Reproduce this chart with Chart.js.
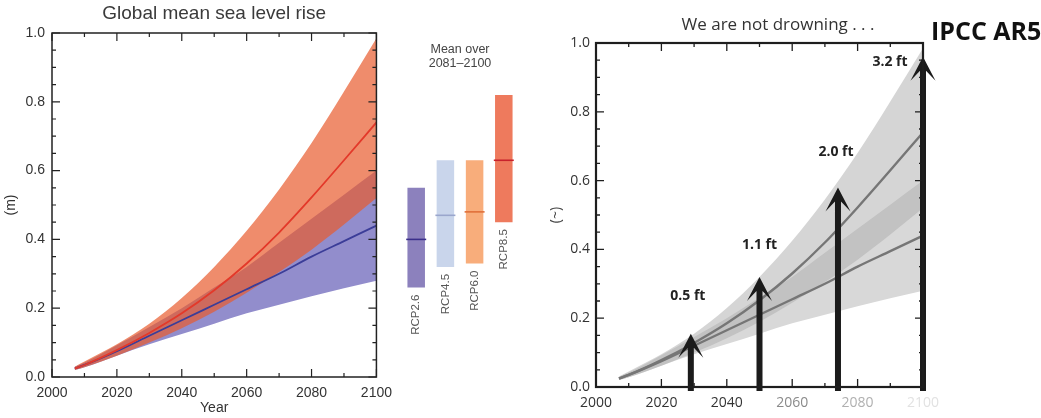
<!DOCTYPE html>
<html>
<head>
<meta charset="utf-8">
<script src="https://cdn.jsdelivr.net/npm/chart.js@4.4.1/dist/chart.umd.min.js"></script>
<style>
body { margin: 0; background: #fff; }
#wrap { position: relative; width: 1041px; height: 418px; overflow: hidden; background: #fff; }
canvas { position: absolute; top: 0; }
#frameLayer { left: 0; z-index: 5; pointer-events: none; }
</style>
</head>
<body>
<div id="wrap">
  <canvas id="seaChart" width="400" height="418" style="left:0"></canvas>
  <canvas id="meanChart" width="140" height="418" style="left:390px"></canvas>
  <canvas id="greyChart" width="511" height="418" style="left:530px"></canvas>
  <canvas id="frameLayer" width="1041" height="418"></canvas>
</div>
<script>
// projections (metres)
const years = [2007, 2010, 2020, 2030, 2040, 2050, 2060, 2070, 2080, 2090, 2100];
const rcp85Mid = [0.025, 0.035, 0.078, 0.128, 0.185, 0.252, 0.330, 0.420, 0.522, 0.630, 0.740];
const rcp85High = [0.03, 0.045, 0.095, 0.155, 0.23, 0.32, 0.425, 0.545, 0.68, 0.83, 0.985];
const rcp85Low = [0.02, 0.028, 0.062, 0.10, 0.142, 0.19, 0.245, 0.305, 0.37, 0.443, 0.52];
const rcp26Mid = [0.025, 0.035, 0.075, 0.12, 0.165, 0.21, 0.255, 0.30, 0.35, 0.395, 0.44];
const rcp26High = [0.03, 0.042, 0.092, 0.145, 0.20, 0.26, 0.32, 0.39, 0.46, 0.53, 0.60];
const rcp26Low = [0.02, 0.028, 0.062, 0.095, 0.125, 0.155, 0.185, 0.21, 0.235, 0.258, 0.28];

// mean over 2081-2100
const scenarios = ['RCP2.6', 'RCP4.5', 'RCP6.0', 'RCP8.5'];
const meanLow = [0.26, 0.32, 0.33, 0.45];
const meanHigh = [0.55, 0.63, 0.63, 0.82];
const meanMid = [0.40, 0.47, 0.48, 0.63];

// arrows on the right panel
const arrowYears = [2029, 2050, 2074, 2100];
const arrowTops = [0.155, 0.32, 0.58, 0.96];
const arrowLabels = ['0.5 ft', '1.1 ft', '2.0 ft', '3.2 ft'];

const xTicks = [2000, 2020, 2040, 2060, 2080, 2100];

const pts = arr => years.map((yr, i) => ({ x: yr, y: arr[i] }));

// box with inward ticks on all four sides, drawn on the overlay layer
function drawFrame(ctx, chart, offsetX, color, width, tickWidth) {
    const { chartArea: a, scales: { x, y } } = chart;
    ctx.save();
    ctx.translate(offsetX, 0);
    ctx.strokeStyle = color;
    ctx.lineWidth = tickWidth;
    ctx.beginPath();
    for (let k = 0; k <= 20; k++) {
        const py = y.getPixelForValue(k * 0.05);
        const len = k % 4 === 0 ? 8 : 4;
        ctx.moveTo(a.left, py); ctx.lineTo(a.left + len, py);
        ctx.moveTo(a.right, py); ctx.lineTo(a.right - len, py);
    }
    for (let yr = 2000; yr <= 2100; yr += 10) {
        const px = x.getPixelForValue(yr);
        const len = yr % 20 === 0 ? 8 : 4;
        ctx.moveTo(px, a.bottom); ctx.lineTo(px, a.bottom - len);
        ctx.moveTo(px, a.top); ctx.lineTo(px, a.top + len);
    }
    ctx.stroke();
    ctx.lineWidth = width;
    ctx.strokeRect(a.left, a.top, a.right - a.left, a.bottom - a.top);
    ctx.restore();
}

function drawTexts(chart, items) {
    const { ctx, chartArea: a } = chart;
    items.forEach(t => {
        ctx.save();
        ctx.translate(t.x === 'center' ? (a.left + a.right) / 2 : t.x, t.y);
        ctx.font = t.font;
        ctx.fillStyle = t.color || '#333';
        ctx.textAlign = t.align || 'center';
        ctx.textBaseline = 'middle';
        ctx.fillText(t.text, 0, 0);
        ctx.restore();
    });
}

function bandSets(c) {
    return [
        { data: pts(rcp26Low), borderWidth: 0, pointRadius: 0, fill: false, order: 5 },
        { data: pts(rcp26High), borderWidth: 0, pointRadius: 0, fill: 0, backgroundColor: c.lowBand, order: 4 },
        { data: pts(rcp85Low), borderWidth: 0, pointRadius: 0, fill: false, order: 3 },
        { data: pts(rcp85High), borderWidth: 0, pointRadius: 0, fill: 2, backgroundColor: c.highBand, order: 2 },
        { data: pts(rcp26Mid), borderColor: c.lowLine, borderWidth: c.lineWidth, pointRadius: 0, fill: false, order: 1 },
        { data: pts(rcp85Mid), borderColor: c.highLine, borderWidth: c.lineWidth, pointRadius: 0, fill: false, order: 0 }
    ];
}

const yearLabel = v => String(v);

document.addEventListener('DOMContentLoaded', () => {
    Chart.defaults.animation = false;

    // Left: Global mean sea level rise
    const seaChart = new Chart(document.getElementById('seaChart'), {
        type: 'line',
        data: {
            datasets: bandSets({
                lowBand: 'rgb(146,141,204)', highBand: 'rgba(232,91,45,0.7)',
                lowLine: '#3b3d98', highLine: '#e3392a', lineWidth: 1.8
            })
        },
        options: {
            responsive: false,
            cubicInterpolationMode: 'monotone',
            layout: { padding: { top: 33, right: 18, left: 0, bottom: 0 } },
            plugins: { legend: { display: false }, tooltip: { enabled: false } },
            scales: {
                x: {
                    type: 'linear', min: 2000, max: 2100,
                    afterBuildTicks: s => { s.ticks = xTicks.map(v => ({ value: v })); },
                    afterFit: s => { s.height = 41; },
                    grid: { display: false, drawTicks: false }, border: { display: false },
                    ticks: { padding: 8, color: '#333', font: { family: '"Liberation Sans", Arial', size: 14 }, callback: yearLabel },
                    title: { display: true, text: 'Year', color: '#333', padding: { top: 0, bottom: 1 }, font: { family: '"Liberation Sans", Arial', size: 14 } }
                },
                y: {
                    min: 0, max: 1,
                    afterFit: s => { s.width = 52; },
                    grid: { display: false, drawTicks: false }, border: { display: false },
                    ticks: { stepSize: 0.2, padding: 7, color: '#333', font: { family: '"Liberation Sans", Arial', size: 14 }, callback: v => v.toFixed(1) },
                    title: { display: true, text: '(m)', color: '#333', padding: { top: 3, bottom: 0 }, font: { family: '"Liberation Sans", Arial', size: 14 } }
                }
            }
        },
        plugins: [{
            id: 'decor',
            afterDraw(chart) {
                drawTexts(chart, [
                    { text: 'Global mean sea level rise', x: 'center', y: 14, font: '19px "Liberation Sans", Arial, sans-serif', color: '#3a3a3a' }
                ]);
            }
        }]
    });

    // Middle: mean over 2081-2100 bars
    const barColors = ['#8c81bd', '#c9d5eb', '#f8ad7b', '#ee7a5d'];
    const markColors = ['#3a2f8a', '#9aa6cc', '#e0703a', '#c8222c'];
    new Chart(document.getElementById('meanChart'), {
        type: 'bar',
        data: {
            labels: scenarios,
            datasets: [
                {
                    type: 'line', data: meanMid, showLine: false, pointStyle: 'line',
                    pointRadius: 10, pointBorderWidth: 1.6, pointBorderColor: markColors, order: 0
                },
                {
                    data: scenarios.map((s, i) => [meanLow[i], meanHigh[i]]),
                    backgroundColor: barColors, borderWidth: 0,
                    barPercentage: 0.6, categoryPercentage: 1, order: 1
                }
            ]
        },
        options: {
            responsive: false,
            layout: { padding: { top: 33, bottom: 41, left: 5, right: 1 } },
            plugins: { legend: { display: false }, tooltip: { enabled: false } },
            scales: {
                x: { display: false },
                y: { display: false, min: 0, max: 1 }
            }
        },
        plugins: [{
            id: 'decor',
            afterDraw(chart) {
                drawTexts(chart, [
                    { text: 'Mean over', x: 'center', y: 50, font: '12.5px "Liberation Sans", Arial', color: '#444' },
                    { text: '2081\u20132100', x: 'center', y: 64, font: '12.5px "Liberation Sans", Arial', color: '#444' }
                ]);
                const { ctx, scales: { x, y } } = chart;
                ctx.save();
                ctx.font = '11.5px "Liberation Sans", Arial';
                ctx.fillStyle = '#555';
                ctx.textAlign = 'right';
                ctx.textBaseline = 'middle';
                scenarios.forEach((s, i) => {
                    ctx.save();
                    ctx.translate(x.getPixelForValue(i), y.getPixelForValue(meanLow[i]) + 7);
                    ctx.rotate(-Math.PI / 2);
                    ctx.fillText(s, 0, 0);
                    ctx.restore();
                });
                ctx.restore();
            }
        }]
    });

    // Right: grey copy with arrows
    const labelOffsets = [[-3, -38], [0, -32], [-2, -35], [-33, 5]];
    function drawArrows(chart) {
        const { ctx, scales: { x, y } } = chart;
        ctx.save();
        arrowYears.forEach((yr, i) => {
            const px = x.getPixelForValue(yr);
            const base = y.getPixelForValue(0) + 4;
            const tip = y.getPixelForValue(arrowTops[i]);
            ctx.fillStyle = '#1b1b1b';
            ctx.beginPath();
            ctx.moveTo(px, tip);
            ctx.lineTo(px + 12.5, tip + 24);
            ctx.lineTo(px + 3, tip + 14);
            ctx.lineTo(px + 3, base);
            ctx.lineTo(px - 3, base);
            ctx.lineTo(px - 3, tip + 14);
            ctx.lineTo(px - 12.5, tip + 24);
            ctx.closePath();
            ctx.fill();
            const [dx, dy] = labelOffsets[i];
            ctx.font = 'bold 14px "Open Sans", sans-serif';
            ctx.fillStyle = '#222';
            ctx.textAlign = 'center';
            ctx.textBaseline = 'middle';
            ctx.fillText(arrowLabels[i], px + dx, tip + dy);
        });
        ctx.restore();
    }

    const tickShade = v => v <= 2040 ? '#333' : v === 2060 ? '#8a8a8a' : v === 2080 ? '#b0b0b0' : '#e2e2e2';

    const greyChart = new Chart(document.getElementById('greyChart'), {
        type: 'line',
        data: {
            datasets: bandSets({
                lowBand: 'rgb(216,216,216)', highBand: 'rgba(172,172,172,0.5)',
                lowLine: '#767676', highLine: '#767676', lineWidth: 2.4
            })
        },
        options: {
            responsive: false,
            cubicInterpolationMode: 'monotone',
            layout: { padding: { top: 43, right: 118, left: 0, bottom: 0 } },
            plugins: { legend: { display: false }, tooltip: { enabled: false } },
            scales: {
                x: {
                    type: 'linear', min: 2000, max: 2100,
                    afterBuildTicks: s => { s.ticks = xTicks.map(v => ({ value: v })); },
                    afterFit: s => { s.height = 31; },
                    grid: { display: false, drawTicks: false }, border: { display: false },
                    ticks: { padding: 8, color: c => tickShade(c.tick.value), font: { family: '"Open Sans"', size: 14 }, callback: yearLabel }
                },
                y: {
                    min: 0, max: 1,
                    afterFit: s => { s.width = 66; },
                    grid: { display: false, drawTicks: false }, border: { display: false },
                    ticks: { stepSize: 0.2, padding: 6, color: '#333', font: { family: '"Open Sans"', size: 14 }, callback: v => v.toFixed(1) },
                    title: { display: true, text: '(~)', color: '#444', padding: { top: 18, bottom: 0 }, font: { family: '"Open Sans"', size: 14 } }
                }
            }
        },
        plugins: [{
            id: 'decor',
            afterDraw(chart) {
                drawArrows(chart);
                drawTexts(chart, [
                    { text: 'We are not drowning . . .', x: 248, y: 25, font: '17px "Open Sans", sans-serif', color: '#333' },
                    { text: 'IPCC AR5', x: 401, y: 33, align: 'left', font: 'bold 25px "Open Sans", sans-serif', color: '#111' }
                ]);
            }
        }]
    });

    // frames on a separate layer above both line charts, placed from their chart areas
    const layer = document.getElementById('frameLayer').getContext('2d');
    drawFrame(layer, seaChart, 0, '#222', 1.5, 1.2);
    drawFrame(layer, greyChart, 530, '#1e1e1e', 2.2, 1.3);
});
</script>
</body>
</html>
